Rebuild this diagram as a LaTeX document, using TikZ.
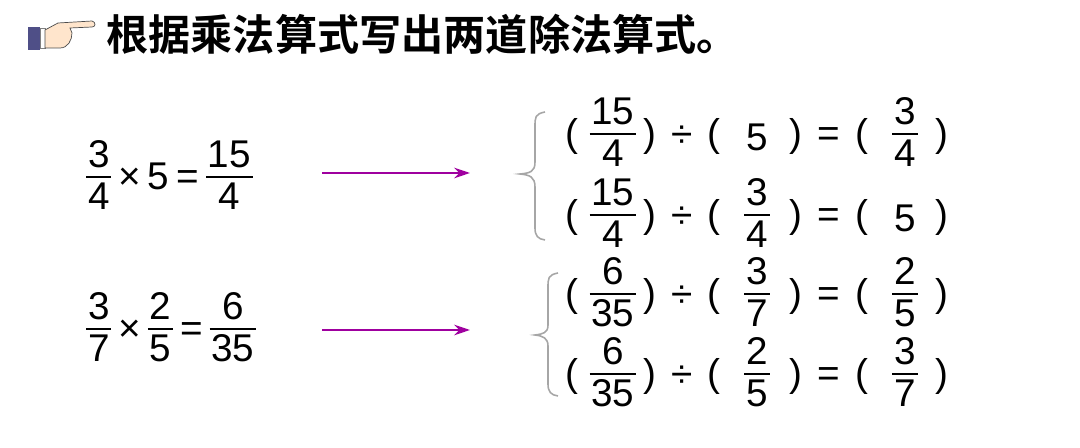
\documentclass[tikz,border=0pt]{standalone}
\usepackage{amsmath}
\usepackage{fontspec}
\usetikzlibrary{arrows.meta}
\setmainfont{Liberation Sans}
\newfontfamily\cjk{Noto Sans CJK SC Bold}
\newcommand{\fr}[2]{$\vcenter{\hbox{\setlength{\tabcolsep}{1pt}\setlength{\arrayrulewidth}{1.2pt}\renewcommand{\arraystretch}{0.95}\begin{tabular}{c}#1\\[-3pt]\hline\rule{0pt}{18pt}#2\end{tabular}}}$}
\begin{document}
\begin{tikzpicture}[x=0.02cm,y=-0.02cm,
  t/.style={inner sep=0pt,font=\fontsize{22}{26}\selectfont},
  arr/.style={draw=violet!75!magenta,line width=1.4pt,-{Stealth[length=9pt,width=6pt]}},
  br/.style={draw=gray!70,line width=0.9pt}]
\useasboundingbox (0,0) rectangle (1080,448);
% hand icon
\fill[gray!50!blue!55!black!80] (28,27) rectangle (40,50);
\fill[white,draw=gray] (40,28) rectangle (45,48);
\draw[fill=orange!20,draw=black!70] (45,30) -- (58,23) -- (92,21) .. controls (96,22) and (96,27) .. (92,27) -- (70,28) -- (72,33) .. controls (72,40) and (68,48) .. (60,48) -- (45,48) -- cycle;
\node[anchor=west,inner sep=0pt,font=\cjk\fontsize{24}{28}\selectfont] (title) at (106,34) {根据乘法算式写出两道除法算式。};
% left expressions
\node[t,anchor=west] (e1) at (86,180) {\fr{3}{4}\kern4pt$\text{×}$\kern4pt$\text{5}$\kern4pt$\text{=}$\kern4pt\fr{15}{4}};
\node[t,anchor=west] (e2) at (86,332) {\fr{3}{7}\kern4pt$\text{×}$\kern4pt\fr{2}{5}\kern4pt$\text{=}$\kern4pt\fr{6}{35}};
\coordinate (a1s) at (322,173); \coordinate (a1e) at (470,173);
\coordinate (a2s) at (322,330); \coordinate (a2e) at (470,330);
\draw[arr] (a1s) -- (a1e);
\draw[arr] (a2s) -- (a2e);
% braces
\draw[br] (545,112) .. controls (535,114) and (535,117) .. (535,127) -- (535,162) .. controls (535,172) and (530,173) .. (520,174) .. controls (530,175) and (535,177) .. (535,187) -- (535,228) .. controls (535,236) and (538,239) .. (545,240);
\draw[br] (558,273) .. controls (548,275) and (548,278) .. (548,288) -- (548,325) .. controls (548,333) and (543,334) .. (535,335) .. controls (543,336) and (548,338) .. (548,346) -- (548,384) .. controls (548,392) and (551,395) .. (558,396);
% rows
\foreach \y/\a/\b/\c [count=\i] in {137/\fr{15}{4}/5/\fr{3}{4}, 218/\fr{15}{4}/\fr{3}{4}/5, 297/\fr{6}{35}/\fr{3}{7}/\fr{2}{5}, 377/\fr{6}{35}/\fr{2}{5}/\fr{3}{7}}{
  \node[t] (p1\i) at (572,\y) {(};
  \node[t] (f1\i) at (613,\y) {\a};
  \node[t] (q1\i) at (650,\y) {)};
  \node[t] (d\i) at (682,\y) {÷};
  \node[t] (p2\i) at (714,\y) {(};
  \node[t] (f2\i) at (757,\y) {\b};
  \node[t] (q2\i) at (796,\y) {)};
  \node[t] (eq\i) at (829,\y) {=};
  \node[t] (p3\i) at (862,\y) {(};
  \node[t] (f3\i) at (905,\y) {\c};
  \node[t] (q3\i) at (942,\y) {)};
}
\end{tikzpicture}
\end{document}
